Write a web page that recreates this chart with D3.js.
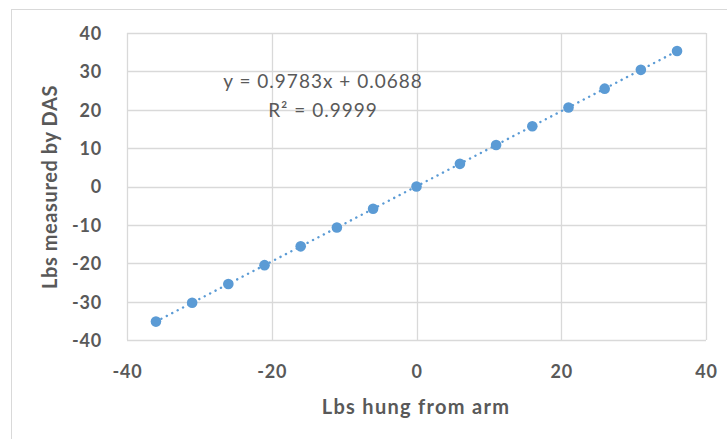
<!DOCTYPE html>
<html><head><meta charset="utf-8">
<script src="https://cdn.jsdelivr.net/npm/d3@7"></script>
<style>body{margin:0;background:#fff}svg{display:block}</style>
</head><body>
<script>
const xValues = [-36, -31, -26, -21, -16, -11, -6, 0, 6, 11, 16, 21, 26, 31, 36];
const yValues = [-35.2, -30.3, -25.4, -20.5, -15.6, -10.7, -5.8, 0, 5.9, 10.8, 15.7, 20.6, 25.5, 30.4, 35.3];
const xTicks = [-40, -20, 0, 20, 40];
const yTicks = [-40, -30, -20, -10, 0, 10, 20, 30, 40];
const equationText = "y = 0.9783x + 0.0688";
const r2Text = "R² = 0.9999";
const xTitle = "Lbs hung from arm";
const yTitle = "Lbs measured by DAS";

const W = 727, H = 439;
const svg = d3.select("body").append("svg").attr("width", W).attr("height", H);
const font = "Lato, 'Open Sans', sans-serif";
const grey = "#595959", grid = "#d9d9d9", blue = "#5b9bd5";

// outer chart border
svg.append("rect").attr("x", 11.5).attr("y", 9.5).attr("width", 740).attr("height", 460)
  .attr("fill", "#fff").attr("stroke", grid).attr("stroke-width", 1);

const L = 127, R = 706, T = 33, B = 340;
const x = d3.scaleLinear().domain([-40, 40]).range([L, R]);
const y = d3.scaleLinear().domain([-40, 40]).range([B, T]);

// gridlines
svg.append("g").selectAll("line").data(yTicks).join("line")
  .attr("x1", L).attr("x2", R).attr("y1", d => Math.round(y(d)) + 0.5).attr("y2", d => Math.round(y(d)) + 0.5)
  .attr("stroke", grid).attr("stroke-width", 1.3);
svg.append("g").selectAll("line").data(xTicks).join("line")
  .attr("y1", T).attr("y2", B).attr("x1", d => Math.round(x(d)) + 0.5).attr("x2", d => Math.round(x(d)) + 0.5)
  .attr("stroke", grid).attr("stroke-width", 1.3);

// axes (labels only)
const fmt = d => String(d);
const xAxis = d3.axisBottom(x).tickValues(xTicks).tickSize(0).tickPadding(0).tickFormat(fmt);
const gx = svg.append("g").attr("transform", `translate(0,${B})`).call(xAxis);
gx.select(".domain").remove();
gx.selectAll("text").attr("dy", null).attr("y", 38).attr("fill", grey)
  .style("font-family", font).style("font-size", "18px").style("font-weight", "bold").style("letter-spacing", "0.8px");

const yAxis = d3.axisLeft(y).tickValues(yTicks).tickSize(0).tickPadding(0).tickFormat(fmt);
const gy = svg.append("g").attr("transform", `translate(${L},0)`).call(yAxis);
gy.select(".domain").remove();
gy.selectAll("text").attr("x", -25).attr("dy", "0.36em").attr("fill", grey)
  .style("font-family", font).style("font-size", "18px").style("font-weight", "bold").style("letter-spacing", "0.8px");

// trendline via least squares
const n = xValues.length;
const mx = d3.mean(xValues), my = d3.mean(yValues);
let sxy = 0, sxx = 0;
for (let i = 0; i < n; i++) { sxy += (xValues[i] - mx) * (yValues[i] - my); sxx += (xValues[i] - mx) ** 2; }
const slope = sxy / sxx, intercept = my - slope * mx;
const xmin = d3.min(xValues), xmax = d3.max(xValues);
svg.append("line")
  .attr("x1", x(xmin)).attr("y1", y(slope * xmin + intercept))
  .attr("x2", x(xmax)).attr("y2", y(slope * xmax + intercept))
  .attr("stroke", blue).attr("stroke-width", 2.4).attr("stroke-linecap", "round")
  .attr("stroke-dasharray", "0.1,6");

// points
svg.append("g").selectAll("circle").data(xValues).join("circle")
  .attr("cx", (d) => x(d)).attr("cy", (d, i) => y(yValues[i])).attr("r", 5.3)
  .attr("fill", blue);

// equation
svg.append("text").attr("x", 323).attr("y", 88).attr("text-anchor", "middle")
  .attr("fill", grey).style("font-family", font).style("font-size", "19px").style("letter-spacing", "1px").text(equationText);
svg.append("text").attr("x", 323).attr("y", 117).attr("text-anchor", "middle")
  .attr("fill", grey).style("font-family", font).style("font-size", "19px").style("letter-spacing", "1px").text(r2Text);

// axis titles
svg.append("text").attr("x", 416).attr("y", 414).attr("text-anchor", "middle")
  .attr("fill", grey).style("font-family", font).style("font-size", "20px").style("font-weight", "bold").style("letter-spacing", "1.3px").text(xTitle);
svg.append("text").attr("transform", `translate(57,187) rotate(-90)`).attr("text-anchor", "middle")
  .attr("fill", grey).style("font-family", font).style("font-size", "20px").style("font-weight", "bold").style("letter-spacing", "0.6px").text(yTitle);
</script>
</body></html>
